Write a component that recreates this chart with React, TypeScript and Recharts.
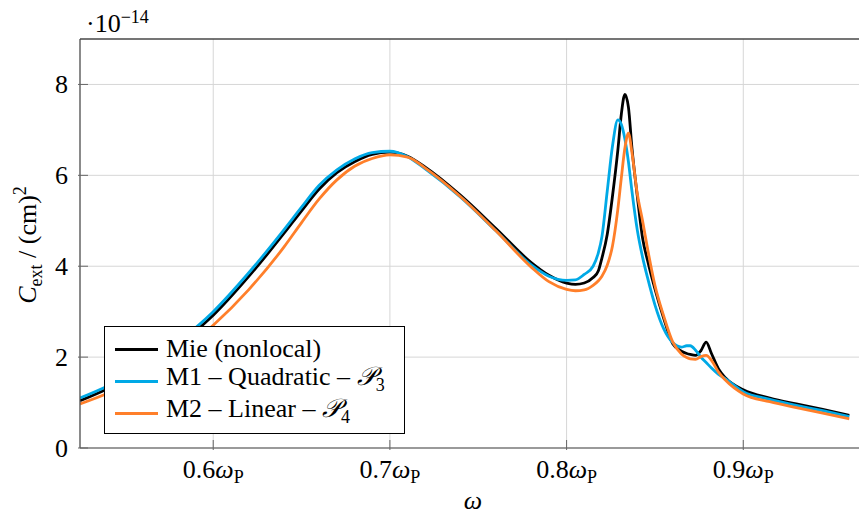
import React from "react";
import {
  LineChart,
  Line,
  XAxis,
  YAxis,
  CartesianGrid,
  ReferenceLine,
} from "recharts";

// omega in units of the plasma frequency
const omega = [
  0.5246, 0.54, 0.56, 0.58, 0.6, 0.62, 0.64, 0.65, 0.66, 0.67, 0.68, 0.69, 0.7,
  0.71, 0.72, 0.74, 0.76, 0.78, 0.79, 0.8, 0.805, 0.81, 0.815, 0.818, 0.82,
  0.823, 0.826, 0.829, 0.831, 0.833, 0.835, 0.837, 0.84, 0.843, 0.846, 0.85,
  0.855, 0.86, 0.865, 0.868, 0.87, 0.873, 0.876, 0.879, 0.882, 0.886, 0.89, 0.9,
  0.915, 0.93, 0.945, 0.96,
];

// C_ext in 1e-14 cm^2
const mie = [
  1.04, 1.3, 1.7, 2.24, 2.92, 3.77, 4.72, 5.22, 5.7, 6.06, 6.3, 6.46, 6.51,
  6.42, 6.18, 5.56, 4.83, 4.08, 3.8, 3.63, 3.6, 3.63, 3.75, 3.9, 4.18, 4.7,
  5.55, 6.55, 7.35, 7.78, 7.5, 6.6, 5.55, 4.62, 4.1, 3.5, 2.85, 2.3, 2.13, 2.08,
  2.06, 2.04, 2.14, 2.33, 2.08, 1.74, 1.54, 1.28, 1.1, 0.97, 0.85, 0.72,
];
const m1Quadratic = [
  1.1, 1.36, 1.78, 2.33, 3.0, 3.85, 4.8, 5.3, 5.78, 6.12, 6.36, 6.5, 6.53, 6.41,
  6.14, 5.52, 4.78, 4.03, 3.78, 3.69, 3.7, 3.82, 4.0, 4.3, 4.65, 5.65, 6.65,
  7.22, 7.12, 6.8, 6.3, 5.65, 4.8, 4.2, 3.72, 3.15, 2.62, 2.32, 2.22, 2.25,
  2.25, 2.15, 2.0, 1.88, 1.76, 1.62, 1.52, 1.24, 1.07, 0.94, 0.82, 0.69,
];
const m2Linear = [
  0.97, 1.2, 1.57, 2.06, 2.7, 3.48, 4.42, 4.96, 5.48, 5.9, 6.2, 6.37, 6.45, 6.4,
  6.16, 5.53, 4.78, 3.98, 3.66, 3.49, 3.46, 3.48, 3.58, 3.68, 3.78, 4.02, 4.45,
  5.25, 5.95, 6.6, 6.93, 6.5, 5.6, 5.0, 4.35, 3.58, 2.9, 2.34, 2.07, 1.99, 1.96,
  1.95, 2.01, 2.04, 1.93, 1.67, 1.49, 1.19, 1.02, 0.89, 0.77, 0.64,
];

const xTicks = [0.6, 0.7, 0.8, 0.9];
const yTicks = [0, 2, 4, 6, 8];

const BLACK = "#000000";
const BLUE = "#00a9e6";
const ORANGE = "#ff7f2a";
const FONT = "Liberation Serif, Tinos, DejaVu Serif, Noto Serif, serif";

const data = omega.map((w, i) => ({
  w,
  mie: mie[i],
  m1: m1Quadratic[i],
  m2: m2Linear[i],
}));

function XTick(props: any) {
  const { x, y, payload } = props;
  return (
    <g>
      <line x1={x} x2={x} y1={y} y2={y - 10} stroke="#666" strokeWidth={1} />
      <text
        x={x}
        y={y + 28}
        textAnchor="middle"
        style={{ fontFamily: FONT }}
        fontSize={26}
        fill="#000"
      >
        {payload.value.toFixed(1)}
        <tspan fontStyle="italic">ω</tspan>
        <tspan fontSize={18} dy={5}>P</tspan>
      </text>
    </g>
  );
}

function YTick(props: any) {
  const { x, y, payload } = props;
  return (
    <g>
      <line x1={x} x2={x + 10} y1={y} y2={y} stroke="#666" strokeWidth={1} />
      <text
        x={x - 10}
        y={y + 9}
        textAnchor="end"
        style={{ fontFamily: FONT }}
        fontSize={26}
        fill="#000"
      >
        {payload.value}
      </text>
    </g>
  );
}

const legendRows = [
  { color: BLACK, label: <>Mie (nonlocal)</> },
  {
    color: BLUE,
    label: (
      <>
        M1 – Quadratic – <i>𝒫</i>
        <sub style={{ fontSize: 18 }}>3</sub>
      </>
    ),
  },
  {
    color: ORANGE,
    label: (
      <>
        M2 – Linear – <i>𝒫</i>
        <sub style={{ fontSize: 18 }}>4</sub>
      </>
    ),
  },
];

export default function App() {
  return (
    <div
      style={{
        position: "absolute",
        left: 0,
        top: 0,
        width: 859,
        height: 520,
        overflow: "hidden",
        background: "#fff",
        fontFamily: FONT,
      }}
    >
      <LineChart
        width={870}
        height={520}
        data={data}
        margin={{ top: 39, right: 8, bottom: 32, left: 40 }}
      >
        <CartesianGrid stroke="#d6d6d6" strokeWidth={1} />
        <XAxis
          dataKey="w"
          type="number"
          domain={[0.5246, 0.9672]}
          ticks={xTicks}
          height={40}
          tickSize={0}
          tickLine={false}
          axisLine={{ stroke: "#4a4a4a", strokeWidth: 1.2 }}
          tick={(p: any) => <XTick {...p} />}
          allowDataOverflow
        />
        <YAxis
          type="number"
          domain={[0, 9]}
          ticks={yTicks}
          width={40}
          tickSize={0}
          tickLine={false}
          axisLine={{ stroke: "#4a4a4a", strokeWidth: 1.2 }}
          tick={(p: any) => <YTick {...p} />}
        />
        <ReferenceLine y={9} stroke="#000" strokeWidth={1.2} />
        <Line
          type="monotone"
          dataKey="mie"
          stroke={BLACK}
          strokeWidth={2.8}
          dot={false}
          isAnimationActive={false}
        />
        <Line
          type="monotone"
          dataKey="m1"
          stroke={BLUE}
          strokeWidth={2.8}
          dot={false}
          isAnimationActive={false}
        />
        <Line
          type="monotone"
          dataKey="m2"
          stroke={ORANGE}
          strokeWidth={2.8}
          dot={false}
          isAnimationActive={false}
        />
      </LineChart>

      {/* exponent label */}
      <div
        style={{
          position: "absolute",
          left: 86,
          top: 2,
          fontSize: 26,
          lineHeight: "30px",
          color: "#000",
        }}
      >
        ·10<sup style={{ fontSize: 18, verticalAlign: 9 }}>−14</sup>
      </div>

      {/* y-axis label */}
      <div
        style={{
          position: "absolute",
          left: 28,
          top: 245,
          transform: "translate(-50%, -50%) rotate(-90deg)",
          whiteSpace: "nowrap",
          fontSize: 26,
          lineHeight: "30px",
          color: "#000",
        }}
      >
        <i>C</i>
        <sub style={{ fontSize: 18 }}>ext</sub> / (cm)
        <sup style={{ fontSize: 18 }}>2</sup>
      </div>

      {/* x-axis label */}
      <div
        style={{
          position: "absolute",
          left: 473,
          top: 488,
          transform: "translateX(-50%)",
          fontSize: 26,
          fontStyle: "italic",
          lineHeight: "26px",
        }}
      >
        ω
      </div>

      {/* legend */}
      <div
        style={{
          position: "absolute",
          left: 104,
          top: 326,
          width: 301,
          height: 108,
          border: "1px solid #000",
          background: "#fff",
          boxSizing: "border-box",
        }}
      >
        {legendRows.map((r, i) => (
          <div
            key={i}
            style={{
              position: "absolute",
              left: 0,
              top: 6 + i * 32,
              height: 32,
              display: "flex",
              alignItems: "center",
              whiteSpace: "nowrap",
            }}
          >
            <div
              style={{
                marginLeft: 10,
                width: 43,
                height: 3,
                background: r.color,
              }}
            />
            <div style={{ marginLeft: 8, fontSize: 26, lineHeight: "32px" }}>
              {r.label}
            </div>
          </div>
        ))}
      </div>
    </div>
  );
}
